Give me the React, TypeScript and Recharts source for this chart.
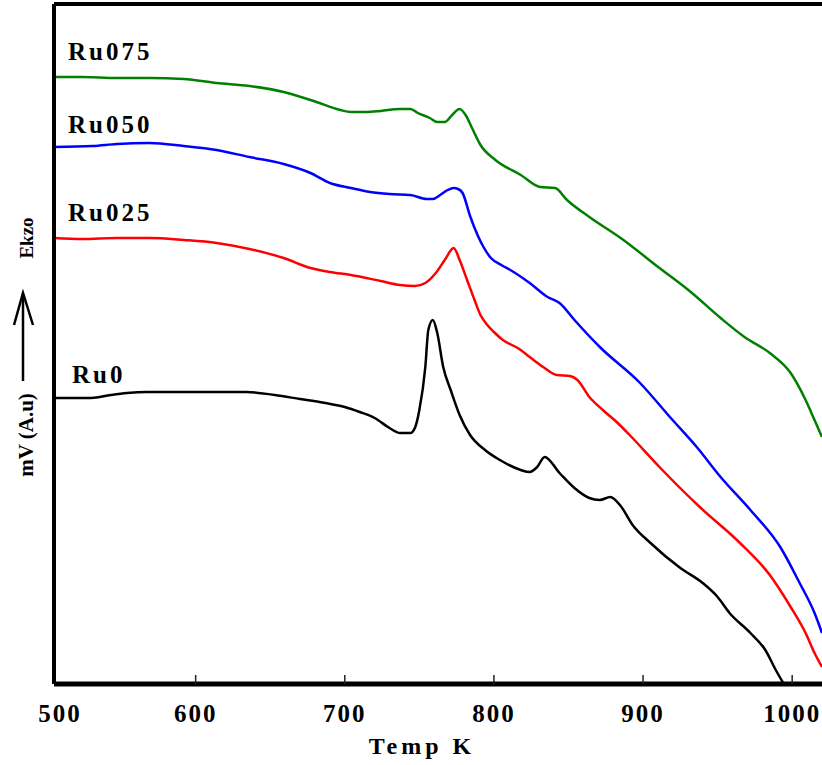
import React from 'react';
import { LineChart, Line, XAxis, YAxis, ReferenceLine } from 'recharts';

// DTA traces, [temperature K, signal a.u.]
const ru0: [number, number][] = [
  [505, 286], [530, 286], [543, 289], [554, 291], [567, 292], [603, 292], [634, 292], [653, 289],
  [670, 285], [687, 281], [700, 277], [710, 272], [720, 266], [730, 256], [737, 251], [744, 251],
  [747, 256], [750, 274], [754, 317], [756, 354], [759, 364], [762, 351], [766, 317], [771, 294],
  [777, 269], [784, 249], [794, 234], [804, 224], [818, 214], [824, 212], [829, 217], [834, 227],
  [844, 211], [854, 196], [864, 186], [871, 184], [878, 187], [885, 178], [893, 159],
  [905, 141], [925, 116], [940, 101], [950, 87], [958, 71], [972, 51], [982, 34], [989, 14], [994, 1],
];

const ru025: [number, number][] = [
  [505, 446], [524, 445], [547, 446], [569, 446], [592, 444], [614, 441], [636, 435], [659, 426],
  [677, 416], [690, 412], [704, 409], [724, 403], [737, 399], [747, 398], [754, 401], [761, 411],
  [767, 424], [773, 436], [777, 424], [782, 404], [787, 384], [791, 369], [795, 360], [800, 352],
  [806, 344], [816, 336], [824, 327], [833, 317], [842, 309], [851, 308], [856, 304], [864, 287],
  [873, 274], [883, 261], [891, 249], [911, 217], [938, 177], [965, 141], [985, 109], [999, 77],
  [1009, 51], [1015, 31], [1020, 17],
];

const ru050: [number, number][] = [
  [505, 537], [531, 538], [547, 540], [569, 541], [592, 538], [614, 534], [636, 527], [659, 520],
  [677, 511], [690, 501], [704, 496], [717, 492], [730, 490], [744, 489], [755, 485], [759, 485],
  [764, 489], [769, 494], [773, 496], [776, 495], [779, 491], [784, 468], [789, 449], [793, 437],
  [798, 426], [805, 419], [811, 414], [824, 401], [836, 387], [844, 381], [854, 364], [871, 337],
  [898, 301], [918, 267], [936, 237], [952, 207], [972, 174], [992, 137], [1005, 101], [1015, 71],
  [1020, 51],
];

const ru075: [number, number][] = [
  [505, 607], [524, 607], [547, 606], [569, 606], [592, 605], [614, 601], [636, 598], [659, 592],
  [681, 582], [697, 574], [704, 572], [714, 572], [724, 573], [737, 575], [744, 575], [749, 571],
  [757, 566], [762, 562], [767, 562], [772, 569], [777, 575], [781, 569], [785, 557], [791, 539],
  [801, 524], [818, 509], [831, 497], [841, 496], [849, 484], [864, 467], [885, 446], [911, 416],
  [932, 392], [952, 366], [968, 347], [985, 331], [999, 311], [1009, 284], [1015, 264], [1020, 247],
];

const seriesNames = ['Ru0', 'Ru025', 'Ru050', 'Ru075'];
const seriesColors = ['#000000', '#ff0000', '#0000ff', '#008000'];
const seriesData = [ru0, ru025, ru050, ru075];

const tickValues = [505, 600, 700, 800, 900, 1000];
const tickLabels = ['500', '600', '700', '800', '900', '1000'];

const FONT = '"Liberation Serif", "Times New Roman", serif';

const toPoints = (arr: [number, number][]) => arr.map(([t, v]) => ({ t, v }));

const BottomTick = (props: any) => {
  const { x, y, index } = props;
  return (
    <g>
      {index > 0 && <line x1={x} y1={y} x2={x} y2={y - 9} stroke="#222" strokeWidth={1.5} />}
      <text
        x={index === 0 ? x + 6 : x}
        y={y + 38}
        textAnchor="middle"
        fontFamily={FONT}
        fontWeight="bold"
        fontSize={25}
        letterSpacing={2}
        fill="#000"
      >
        {tickLabels[index]}
      </text>
    </g>
  );
};

// label positions beside each trace
const labelPos = [
  { x: 72, y: 383 },
  { x: 68, y: 221 },
  { x: 68, y: 133 },
  { x: 68, y: 60 },
];

export default function App() {
  return (
    <div style={{ position: 'absolute', left: 0, top: 0, width: 822, height: 765, background: '#fff' }}>
      <LineChart width={822} height={765} margin={{ top: 4, right: 0, left: 0, bottom: 0 }}>
        <XAxis
          type="number"
          dataKey="t"
          domain={[505, 1020]}
          ticks={tickValues}
          allowDataOverflow
          height={81}
          tickLine={false}
          tickSize={0}
          tickMargin={0}
          tick={<BottomTick />}
          axisLine={{ stroke: '#000', strokeWidth: 5 }}
        />
        <YAxis
          type="number"
          dataKey="v"
          domain={[0, 680]}
          width={54}
          tick={false}
          tickLine={false}
          allowDataOverflow
          axisLine={{ stroke: '#000', strokeWidth: 4 }}
        />
        <ReferenceLine y={680} stroke="#000" strokeWidth={4} />
        {seriesData.map((d, i) => (
          <Line
            key={seriesNames[i]}
            data={toPoints(d)}
            dataKey="v"
            type="monotone"
            stroke={seriesColors[i]}
            strokeWidth={2.5}
            dot={false}
            isAnimationActive={false}
          />
        ))}
      </LineChart>
      <svg
        width={822}
        height={765}
        style={{ position: 'absolute', left: 0, top: 0, pointerEvents: 'none' }}
      >
        {seriesNames.map((name, i) => (
          <text
            key={name}
            x={labelPos[i].x}
            y={labelPos[i].y}
            fontFamily={FONT}
            fontWeight="bold"
            fontSize={25}
            letterSpacing={3}
            fill="#000"
          >
            {name}
          </text>
        ))}
        <text
          x={422}
          y={754}
          textAnchor="middle"
          fontFamily={FONT}
          fontWeight="bold"
          fontSize={24}
          letterSpacing={4}
        >
          Temp K
        </text>
        <text
          transform="translate(33, 435) rotate(-90)"
          textAnchor="middle"
          fontFamily={FONT}
          fontWeight="bold"
          fontSize={21}
        >
          mV (A.u)
        </text>
        <text
          transform="translate(33, 238) rotate(-90)"
          textAnchor="middle"
          fontFamily={FONT}
          fontWeight="bold"
          fontSize={19}
        >
          Ekzo
        </text>
        <line x1={23} y1={381} x2={23} y2={294} stroke="#000" strokeWidth={2.5} />
        <polyline points="14,325 23,293 33,325" fill="none" stroke="#000" strokeWidth={2.5} />
      </svg>
    </div>
  );
}
